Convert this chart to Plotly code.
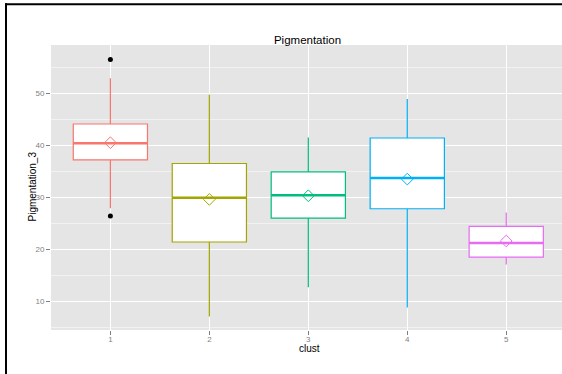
import plotly.graph_objects as go

# ---- data ----
clusters = [1, 2, 3, 4, 5]
tick_labels = ["1", "2", "3", "4", "5"]
q1 = [37.2, 21.4, 26.0, 27.8, 18.5]
median = [40.4, 29.9, 30.4, 33.7, 21.2]
q3 = [44.1, 36.5, 34.9, 41.4, 24.4]
lower_whisker = [27.9, 7.1, 12.7, 8.8, 17.1]
upper_whisker = [52.9, 49.7, 41.5, 48.9, 27.1]
means = [40.5, 29.6, 30.3, 33.5, 21.6]
outlier_x = [1, 1]
outlier_y = [56.5, 26.4]
colors = ["#F8766D", "#A3A500", "#00BF7D", "#00B0F6", "#E76BF3"]

BOX_W = 0.75
W, H = 562, 374
ML, MR, MT, MB = 51, 0, 45, 44

fig = go.Figure()

for i, c in enumerate(clusters):
    col = colors[i]
    fig.add_trace(go.Box(
        x=[c], q1=[q1[i]], median=[median[i]], q3=[q3[i]],
        lowerfence=[lower_whisker[i]], upperfence=[upper_whisker[i]],
        width=BOX_W, whiskerwidth=0, fillcolor="white",
        line=dict(color=col, width=1.2), boxpoints=False,
        showlegend=False, hoverinfo="skip",
    ))
    # thicker median line
    fig.add_trace(go.Scatter(
        x=[c - BOX_W / 2, c + BOX_W / 2], y=[median[i], median[i]],
        mode="lines", line=dict(color=col, width=2.6),
        showlegend=False, hoverinfo="skip",
    ))

# mean diamonds
fig.add_trace(go.Scatter(
    x=clusters, y=means, mode="markers",
    marker=dict(symbol="diamond-open", size=9, color=colors,
                line=dict(width=1, color=colors)),
    showlegend=False, hoverinfo="skip",
))

# outliers
fig.add_trace(go.Scatter(
    x=outlier_x, y=outlier_y, mode="markers",
    marker=dict(size=5, color="black"),
    showlegend=False, hoverinfo="skip",
))

font_family = "Liberation Sans, Arial, sans-serif"
pw = W - ML - MR
ph = H - MT - MB

def px_x(p):
    return (p - ML) / pw

def px_y(p):
    return (H - MB - p) / ph

# black frame (top and left)
fig.add_shape(type="line", xref="paper", yref="paper",
              x0=px_x(5), x1=px_x(W + 2), y0=px_y(4.2), y1=px_y(4.2),
              line=dict(color="black", width=2))
fig.add_shape(type="line", xref="paper", yref="paper",
              x0=px_x(6), x1=px_x(6), y0=px_y(3.2), y1=px_y(H + 2),
              line=dict(color="black", width=2))

# axis titles as annotations for exact placement
fig.add_annotation(text="clust", xref="paper", yref="paper",
                   x=px_x(309), y=px_y(348), xanchor="center", yanchor="middle",
                   showarrow=False, font=dict(size=10, color="black"))
fig.add_annotation(text="Pigmentation_3", xref="paper", yref="paper",
                   x=px_x(31.5), y=px_y(187), xanchor="center", yanchor="middle",
                   textangle=-90, showarrow=False, font=dict(size=10, color="black"))

fig.update_layout(
    width=W, height=H,
    margin=dict(l=ML, r=MR, t=MT, b=MB, pad=0),
    paper_bgcolor="white",
    plot_bgcolor="#E5E5E5",
    font=dict(family=font_family, color="black"),
    title=dict(text="Pigmentation", x=307.5 / W, xanchor="center",
               y=1 - 39.5 / H, yanchor="middle",
               font=dict(size=11.5, color="black", family=font_family)),
    xaxis=dict(
        range=[0.4, 5.5634], tickvals=clusters, ticktext=tick_labels,
        showgrid=True, gridcolor="white", gridwidth=1.2,
        zeroline=False, showline=False,
        ticks="outside", ticklen=4, tickcolor="#7F7F7F", tickwidth=1,
        tickfont=dict(size=8, color="#7F7F7F"),
        ticklabelstandoff=-3,
    ),
    yaxis=dict(
        range=[4.48, 59.29], tickvals=[10, 20, 30, 40, 50],
        showgrid=True, gridcolor="white", gridwidth=1.2,
        zeroline=False, showline=False,
        ticks="outside", ticklen=4, tickcolor="#7F7F7F", tickwidth=1,
        tickfont=dict(size=8, color="#7F7F7F"),
        minor=dict(tick0=5, dtick=10, showgrid=True, gridcolor="#F2F2F2",
                   gridwidth=0.6, ticks=""),
    ),
)

fig.write_html(
    "out.html",
    config={"displayModeBar": False},
    post_script=("document.body.style.margin='0';"
                 "document.body.style.overflow='hidden';"
                 "document.documentElement.style.overflow='hidden';"),
)
